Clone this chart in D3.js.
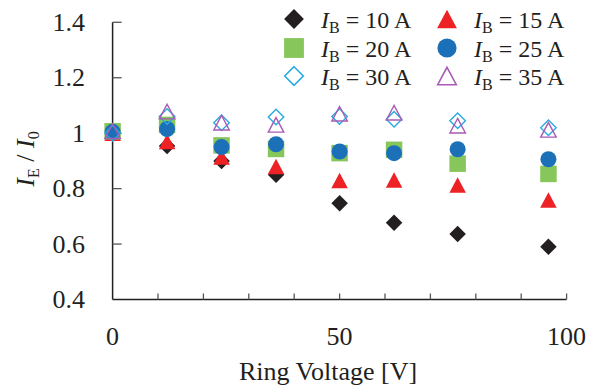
<!DOCTYPE html>
<html>
<head>
<meta charset="utf-8">
<script src="https://cdn.jsdelivr.net/npm/d3@7"></script>
<style>
  body { margin: 0; background: #fff; }
  svg { display: block; }
</style>
</head>
<body>
<div id="chart"></div>
<script>
// Ring voltage (x) values
const voltages = [0, 12, 24, 36, 50, 62, 76, 96];

// I_E / I_0 for each beam current
const ib10 = [1.0, 0.954, 0.90, 0.85, 0.747, 0.677, 0.636, 0.59];
const ib15 = [1.0, 0.97, 0.914, 0.88, 0.829, 0.831, 0.813, 0.759];
const ib20 = [1.007, 1.03, 0.956, 0.943, 0.928, 0.94, 0.89, 0.853];
const ib25 = [1.005, 1.015, 0.95, 0.96, 0.934, 0.928, 0.942, 0.906];
const ib30 = [1.0, 1.06, 1.038, 1.058, 1.06, 1.05, 1.045, 1.02];
const ib35 = [1.007, 1.078, 1.038, 1.03, 1.07, 1.074, 1.027, 1.012];

const currents = ['10', '15', '20', '25', '30', '35'];

const yTicks = [0.4, 0.6, 0.8, 1.0, 1.2, 1.4];
const yTickLabels = ['0.4', '0.6', '0.8', '1', '1.2', '1.4'];
const xMinorTicks = [0, 10, 20, 30, 40, 50, 60, 70, 80, 90, 100];
const xTickLabels = [0, 50, 100];

const FONT = '"Liberation Serif", "Times New Roman", Times, serif';

// marker styles per series
const series = [
    { name: currents[0], values: ib10, shape: 'diamond', fill: '#231f20', stroke: 'none', size: 16.5 },
    { name: currents[1], values: ib15, shape: 'triangle', fill: '#ed2224', stroke: 'none', size: 16.5 },
    { name: currents[2], values: ib20, shape: 'square', fill: '#86c65b', stroke: 'none', size: 16.5 },
    { name: currents[3], values: ib25, shape: 'circle', fill: '#1b70b8', stroke: 'none', size: 16 },
    { name: currents[4], values: ib30, shape: 'diamond', fill: 'none', stroke: '#29abe2', size: 15.5 },
    { name: currents[5], values: ib35, shape: 'triangle', fill: 'none', stroke: '#a95bb5', size: 15.5 }
];

// Build a marker path centred on (0,0), s = bounding width
function markerPath(shape, s) {
    const h = s / 2;
    const p = d3.path();
    if (shape === 'diamond') {
        p.moveTo(0, -h); p.lineTo(h, 0); p.lineTo(0, h); p.lineTo(-h, 0); p.closePath();
    } else if (shape === 'square') {
        p.rect(-h, -h, s, s);
    } else if (shape === 'circle') {
        p.arc(0, 0, h, 0, 2 * Math.PI);
    } else if (shape === 'triangle') {
        const th = s * 0.94 / 2;
        p.moveTo(0, -th); p.lineTo(h, th); p.lineTo(-h, th); p.closePath();
    }
    return p.toString();
}

const width = 600, height = 392;
const svg = d3.select('#chart').append('svg')
    .attr('width', width)
    .attr('height', height)
    .attr('font-family', FONT);

const x = d3.scaleLinear().domain([0, 100]).range([112.6, 566.6]);
const y = d3.scaleLinear().domain([0.4, 1.4]).range([299.5, 22.3]);

// Axis lines
svg.append('line')
    .attr('x1', x(0)).attr('x2', x(0))
    .attr('y1', y(1.4)).attr('y2', y(0.4))
    .attr('stroke', '#231f20').attr('stroke-width', 1.5);
svg.append('line')
    .attr('x1', x(0)).attr('x2', x(100))
    .attr('y1', y(0.4)).attr('y2', y(0.4))
    .attr('stroke', '#231f20').attr('stroke-width', 1.5);

// Y ticks (inward)
svg.selectAll('.ytick')
    .data(yTicks.filter(d => d > 0.4))
    .enter().append('line')
    .attr('x1', x(0)).attr('x2', x(0) + 9)
    .attr('y1', d => y(d)).attr('y2', d => y(d))
    .attr('stroke', '#555').attr('stroke-width', 1.3);

svg.selectAll('.ylabel')
    .data(yTicks)
    .enter().append('text')
    .attr('x', 85)
    .attr('y', d => y(d) + 8.5)
    .attr('text-anchor', 'end')
    .attr('font-size', '26px')
    .attr('fill', '#231f20')
    .text((d, i) => yTickLabels[i]);

// X ticks (inward)
svg.selectAll('.xtick')
    .data(xMinorTicks.filter(d => d > 0))
    .enter().append('line')
    .attr('x1', d => x(d)).attr('x2', d => x(d))
    .attr('y1', y(0.4)).attr('y2', y(0.4) - 6)
    .attr('stroke', '#555').attr('stroke-width', 1.3);

svg.selectAll('.xlabel')
    .data(xTickLabels)
    .enter().append('text')
    .attr('x', d => x(d))
    .attr('y', 345)
    .attr('text-anchor', 'middle')
    .attr('font-size', '26px')
    .attr('fill', '#231f20')
    .text(d => d);

// Axis titles
svg.append('text')
    .attr('x', 328)
    .attr('y', 380)
    .attr('text-anchor', 'middle')
    .attr('font-size', '26px')
    .attr('fill', '#231f20')
    .text('Ring Voltage [V]');

const yTitle = svg.append('text')
    .attr('transform', 'translate(34,159) rotate(-90)')
    .attr('text-anchor', 'middle')
    .attr('font-size', '26px')
    .attr('fill', '#231f20');
yTitle.append('tspan').attr('font-style', 'italic').text('I');
yTitle.append('tspan').attr('font-size', '16px').attr('dy', 5).text('E');
yTitle.append('tspan').attr('dy', -5).text(' / ');
yTitle.append('tspan').attr('font-style', 'italic').text('I');
yTitle.append('tspan').attr('font-size', '16px').attr('dy', 5).text('0');

// Data markers
series.forEach(s => {
    svg.append('g').selectAll('path')
        .data(s.values.map((v, i) => ({ x: voltages[i], y: v })))
        .enter().append('path')
        .attr('d', markerPath(s.shape, s.size))
        .attr('transform', d => `translate(${x(d.x)},${y(d.y)})`)
        .attr('fill', s.fill)
        .attr('stroke', s.stroke)
        .attr('stroke-width', s.stroke === 'none' ? 0 : 1.4);
});

// Legend
const legendCols = [294, 447];
const legendRows = [19, 48, 76];
series.forEach((s, i) => {
    const cx = legendCols[i % 2];
    const cy = legendRows[Math.floor(i / 2)];
    const g = svg.append('g');
    g.append('path')
        .attr('d', markerPath(s.shape, s.size * 1.2))
        .attr('transform', `translate(${cx},${cy})`)
        .attr('fill', s.fill)
        .attr('stroke', s.stroke)
        .attr('stroke-width', s.stroke === 'none' ? 0 : 1.6);
    const t = g.append('text')
        .attr('x', cx + 27)
        .attr('y', cy + 9)
        .attr('font-size', '24px')
        .attr('fill', '#231f20');
    t.append('tspan').attr('font-style', 'italic').text('I');
    t.append('tspan').attr('font-size', '16px').attr('dy', 5).text('B');
    t.append('tspan').attr('dy', -5).text(` = ${s.name} A`);
});
</script>
</body>
</html>
